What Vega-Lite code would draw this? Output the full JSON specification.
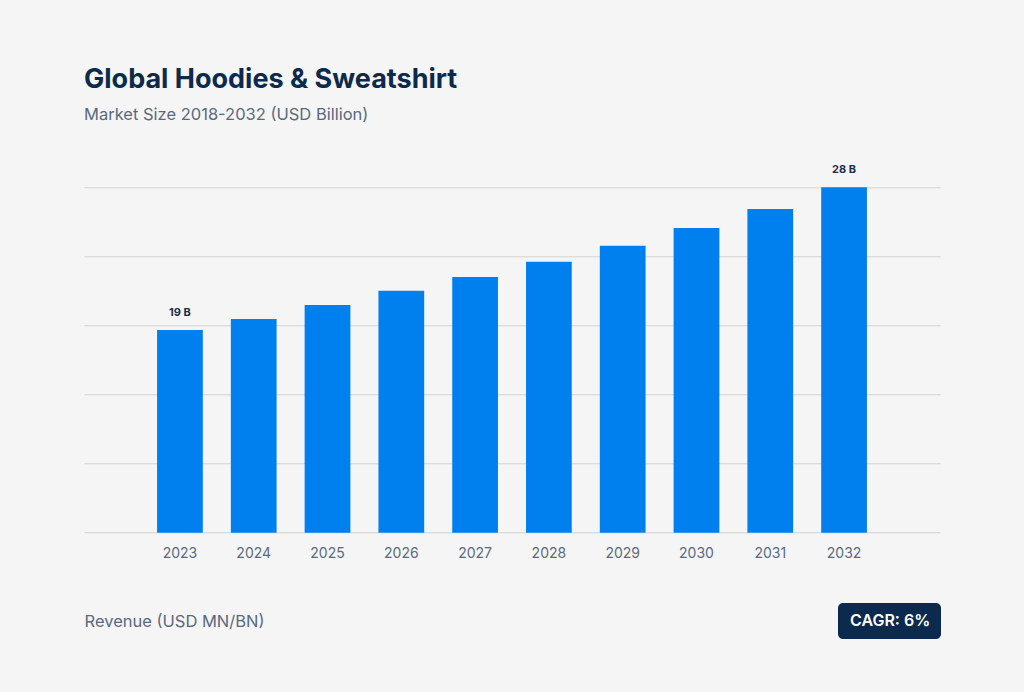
{
  "$schema": "https://vega.github.io/schema/vega-lite/v6.json",
  "autosize": "none",
  "width": 856,
  "height": 345.4,
  "padding": {"left": 84, "top": 187.3, "right": 84, "bottom": 159.3},
  "background": "#f5f5f5",
  "config": {
    "view": {"stroke": null},
    "font": "Inter"
  },
  "title": {
    "text": "Global Hoodies & Sweatshirt",
    "subtitle": "Market Size 2018-2032 (USD Billion)",
    "anchor": "start",
    "frame": "group",
    "offset": 39.5,
    "font": "Inter",
    "fontSize": 27,
    "fontWeight": 700,
    "color": "#0d2a4d",
    "subtitleFont": "Inter",
    "subtitleFontSize": 16.5,
    "subtitleColor": "#5a6a7e",
    "subtitlePadding": 13.5
  },
  "data": {
    "values": [
      {"year": "2023", "value": 19.0, "label": "19 B"},
      {"year": "2024", "value": 19.69, "label": ""},
      {"year": "2025", "value": 20.57, "label": ""},
      {"year": "2026", "value": 21.47, "label": ""},
      {"year": "2027", "value": 22.34, "label": ""},
      {"year": "2028", "value": 23.30, "label": ""},
      {"year": "2029", "value": 24.31, "label": ""},
      {"year": "2030", "value": 25.43, "label": ""},
      {"year": "2031", "value": 26.63, "label": ""},
      {"year": "2032", "value": 28.0, "label": "28 B"}
    ]
  },
  "encoding": {
    "x": {
      "field": "year",
      "type": "ordinal",
      "scale": {"paddingInner": 0.38, "paddingOuter": 0.99},
      "axis": {
        "labelAngle": 0,
        "ticks": false,
        "domain": false,
        "labelColor": "#5a6a7e",
        "labelFontSize": 14,
        "labelPadding": 13.5,
        "title": "Revenue (USD MN/BN)",
        "titleFont": "Inter",
        "titleFontSize": 16.5,
        "titleFontWeight": "normal",
        "titleColor": "#5a6a7e",
        "titleAnchor": "start",
        "titleAlign": "left",
        "titleBaseline": "middle",
        "titleX": 0,
        "titleY": 89
      }
    },
    "y": {
      "field": "value",
      "type": "quantitative",
      "scale": {"domain": [6.2, 28], "zero": false, "nice": false},
      "axis": {
        "values": [6.2, 10.56, 14.92, 19.28, 23.64, 28],
        "grid": true,
        "gridColor": "#d2d2d2",
        "gridWidth": 1,
        "labels": false,
        "ticks": false,
        "domain": false,
        "title": null
      }
    }
  },
  "layer": [
    {
      "mark": {"type": "bar"},
      "encoding": {
        "y2": {"datum": 6.2},
        "color": {
          "datum": "CAGR: 6%",
          "scale": {"range": ["#0080ee"]},
          "legend": {
            "orient": "none",
            "legendX": 754,
            "legendY": 415.7,
            "title": null,
            "fillColor": "#0c2a4d",
            "cornerRadius": 5,
            "padding": 10,
            "symbolSize": 0,
            "symbolOpacity": 0,
            "symbolStrokeWidth": 0,
            "labelOffset": -14,
            "labelColor": "#ffffff",
            "labelFont": "Inter",
            "labelFontSize": 16,
            "labelFontWeight": 600
          }
        }
      }
    },
    {
      "mark": {"type": "text", "baseline": "bottom", "dy": -12, "fontSize": 11, "fontWeight": 700, "color": "#1c2e4a"},
      "encoding": {
        "text": {"field": "label"}
      }
    }
  ]
}
